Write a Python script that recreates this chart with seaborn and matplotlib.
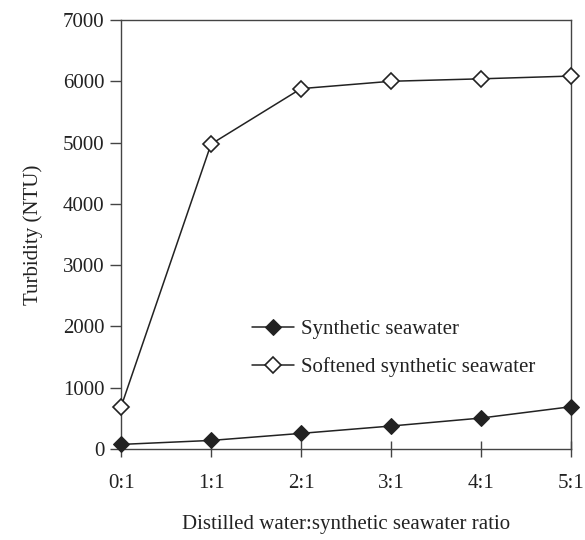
import pandas as pd
import matplotlib
matplotlib.use("Agg")
import matplotlib.pyplot as plt
import seaborn as sns

# data
ratios = ["0:1", "1:1", "2:1", "3:1", "4:1", "5:1"]
synthetic = [75, 140, 255, 375, 505, 690]
softened = [690, 4975, 5880, 6000, 6040, 6085]

df = pd.DataFrame({
    "pos": list(range(len(ratios))) * 2,
    "turbidity": synthetic + softened,
    "series": ["Synthetic seawater"] * 6 + ["Softened synthetic seawater"] * 6,
})

sns.set_style("white")
plt.rcParams["font.family"] = ["Liberation Serif", "DejaVu Serif"]
ink = "#222222"
fs = 15

fig = plt.figure(figsize=(5.85, 5.4), dpi=100)
ax = fig.add_axes([0.207, 0.1685, 0.769, 0.7945])

# ---------------- lines ----------------
sub = df[df["series"] == "Synthetic seawater"]
sns.lineplot(data=sub, x="pos", y="turbidity", ax=ax, color=ink, lw=1.1,
             marker="D", markersize=8, markerfacecolor=ink, markeredgecolor=ink,
             label="Synthetic seawater", clip_on=False, zorder=5)
sub = df[df["series"] == "Softened synthetic seawater"]
sns.lineplot(data=sub, x="pos", y="turbidity", ax=ax, color=ink, lw=1.1,
             marker="D", markersize=8, markerfacecolor="white", markeredgecolor=ink,
             markeredgewidth=1.2, label="Softened synthetic seawater", clip_on=False, zorder=5)

# ---------------- axes ----------------
ax.set_xlim(0, 5)
ax.set_ylim(0, 7000)
ax.set_xticks(range(len(ratios)))
ax.set_xticklabels(ratios)
ax.set_yticks(range(0, 7001, 1000))
for s in ax.spines.values():
    s.set_color("#444444")
    s.set_linewidth(1.0)
ax.tick_params(axis="x", bottom=True, direction="inout", length=12, width=1, color="#444444",
               labelsize=fs, labelcolor=ink, pad=12)
ax.tick_params(axis="y", left=True, direction="out", length=8, width=1, color="#444444",
               labelsize=fs, labelcolor=ink, pad=4)
ax.set_xlabel("Distilled water:synthetic seawater ratio", fontsize=fs, color=ink, labelpad=16)
ax.set_ylabel("Turbidity (NTU)", fontsize=fs, color=ink, labelpad=14)

leg = ax.legend(loc="upper left", bbox_to_anchor=(0.25, 0.345), frameon=False,
                fontsize=fs, handlelength=2.0, handletextpad=0.35, labelspacing=0.85,
                labelcolor=ink)

fig.savefig("out.png", dpi=100)
